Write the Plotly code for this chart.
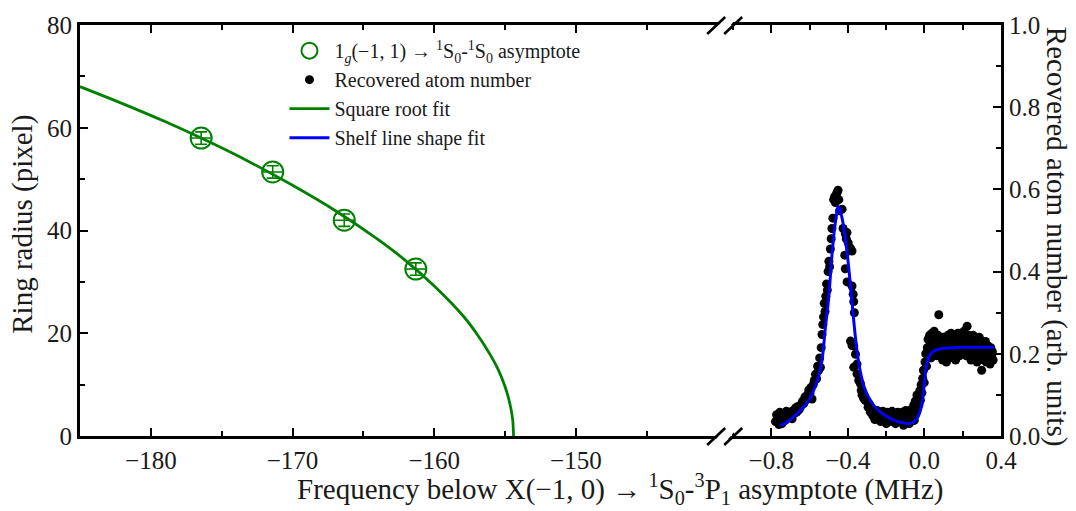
import plotly.graph_objects as go

# ---------------- data ----------------
# green ring radius data (left axis, MHz)
ring_freq = [-176.45, -171.4, -166.35, -161.3]
ring_radius = [58.0, 51.4, 42.0, 32.5]
ring_err_y = [1.2, 1.2, 1.2, 1.2]
ring_err_x = [0.7, 0.7, 0.7, 0.7]

# square root fit curve
fit_freq = [-185.0, -182.0, -179.0, -176.0, -173.0, -170.0, -167.0, -164.0, -162.0,
            -160.0, -158.0, -157.0, -156.0, -155.5, -155.0, -154.8, -154.6, -154.5,
            -154.45, -154.4]
fit_radius = [68.0, 64.7, 61.2, 57.4, 53.3, 48.8, 43.9, 38.3, 34.1,
              29.2, 23.5, 19.9, 15.6, 13.0, 9.6, 7.8, 5.5, 3.9, 2.8, 0.0]

# recovered atom number (right axis, MHz)
atom_freq = [
    -0.778, -0.772, -0.766, -0.760, -0.755, -0.749, -0.744, -0.738, -0.733, -0.727,
    -0.721, -0.715, -0.709, -0.703, -0.697, -0.691, -0.685, -0.679, -0.673, -0.667,
    -0.661, -0.655, -0.648, -0.642, -0.636, -0.630, -0.624, -0.618, -0.612, -0.604,
    -0.598, -0.592, -0.587, -0.581, -0.575, -0.569, -0.563, -0.558, -0.552, -0.547,
    -0.543, -0.539, -0.535, -0.531, -0.527, -0.523, -0.519, -0.515, -0.511, -0.507,
    -0.503, -0.499, -0.495, -0.491, -0.487, -0.483, -0.478, -0.474, -0.469, -0.465,
    -0.460, -0.456, -0.451, -0.447, -0.443, -0.430, -0.425, -0.413, -0.408, -0.416,
    -0.404, -0.398, -0.386, -0.378, -0.413, -0.404, -0.378, -0.372, -0.369, -0.366,
    -0.386, -0.378, -0.369, -0.360, -0.369, -0.352, -0.352, -0.343, -0.334, -0.330,
    -0.326, -0.318, -0.310, -0.300, -0.294, -0.288, -0.282, -0.276, -0.270, -0.265,
    -0.259, -0.253, -0.247, -0.241, -0.235, -0.229, -0.223, -0.217, -0.211, -0.205,
    -0.199, -0.193, -0.187, -0.181, -0.175, -0.169, -0.163, -0.157, -0.151, -0.145,
    -0.139, -0.133, -0.127, -0.121, -0.115, -0.109, -0.103, -0.097, -0.091, -0.085,
    -0.079, -0.073, -0.067, -0.061, -0.056, -0.053, -0.048, -0.043, -0.039, -0.034,
    -0.029, -0.024, -0.021, -0.017, -0.013, -0.009, -0.005, -0.001, 0.003, 0.007,
    0.011, 0.015, 0.019, 0.023, 0.027, 0.031, 0.035, 0.039, 0.043, 0.047,
    0.051, 0.055, 0.059, 0.063, 0.067, 0.071, 0.075, 0.079, 0.083, 0.087,
    0.091, 0.095, 0.099, 0.103, 0.107, 0.111, 0.115, 0.119, 0.123, 0.127,
    0.131, 0.135, 0.139, 0.143, 0.147, 0.151, 0.155, 0.159, 0.163, 0.167,
    0.171, 0.175, 0.179, 0.183, 0.187, 0.191, 0.195, 0.199, 0.203, 0.207,
    0.211, 0.215, 0.219, 0.223, 0.227, 0.231, 0.235, 0.239, 0.243, 0.247,
    0.251, 0.255, 0.259, 0.263, 0.267, 0.271, 0.275, 0.279, 0.283, 0.287,
    0.291, 0.295, 0.299, 0.303, 0.307, 0.311, 0.315, 0.319, 0.323, 0.327,
    0.331, 0.335, 0.339, 0.343, 0.347, 0.351, 0.355, 0.359]
atom_number = [
    0.035, 0.052, 0.040, 0.028, 0.058, 0.044, 0.030, 0.055, 0.047, 0.038,
    0.060, 0.050, 0.058, 0.045, 0.055, 0.042, 0.062, 0.055, 0.068, 0.058,
    0.072, 0.064, 0.070, 0.078, 0.085, 0.079, 0.095, 0.088, 0.100, 0.112,
    0.104, 0.118, 0.090, 0.125, 0.135, 0.150, 0.139, 0.170, 0.160, 0.190,
    0.167, 0.215, 0.247, 0.271, 0.290, 0.323, 0.303, 0.340, 0.370, 0.355,
    0.400, 0.425, 0.412, 0.455, 0.480, 0.505, 0.530, 0.575, 0.582, 0.568,
    0.588, 0.592, 0.598, 0.575, 0.548, 0.552, 0.505, 0.492, 0.480, 0.440,
    0.495, 0.470, 0.457, 0.450, 0.407, 0.375, 0.365, 0.345, 0.327, 0.300,
    0.231, 0.220, 0.219, 0.199, 0.167, 0.175, 0.151, 0.135, 0.127, 0.111,
    0.100, 0.092, 0.087, 0.085, 0.070, 0.078, 0.058, 0.066, 0.050, 0.060,
    0.040, 0.055, 0.062, 0.045, 0.058, 0.035, 0.052, 0.060, 0.042, 0.055,
    0.030, 0.058, 0.048, 0.055, 0.036, 0.060, 0.045, 0.055, 0.030, 0.050,
    0.058, 0.038, 0.052, 0.045, 0.058, 0.026, 0.048, 0.062, 0.040, 0.055,
    0.030, 0.045, 0.065, 0.050, 0.075, 0.038, 0.085, 0.060, 0.100, 0.090,
    0.075, 0.110, 0.087, 0.125, 0.105, 0.140, 0.160, 0.130, 0.180, 0.200,
    0.170, 0.215, 0.235, 0.205, 0.245, 0.228, 0.190, 0.250, 0.215, 0.235,
    0.255, 0.205, 0.240, 0.225, 0.195, 0.245, 0.295, 0.215, 0.238, 0.200,
    0.228, 0.185, 0.240, 0.215, 0.195, 0.235, 0.180, 0.210, 0.245, 0.200,
    0.225, 0.190, 0.250, 0.210, 0.235, 0.200, 0.245, 0.220, 0.185, 0.240,
    0.205, 0.250, 0.225, 0.195, 0.250, 0.215, 0.240, 0.200, 0.230, 0.255,
    0.215, 0.240, 0.195, 0.267, 0.225, 0.245, 0.205, 0.235, 0.185, 0.230,
    0.200, 0.245, 0.215, 0.190, 0.235, 0.205, 0.180, 0.225, 0.195, 0.240,
    0.210, 0.230, 0.160, 0.195, 0.225, 0.185, 0.210, 0.230, 0.180, 0.205,
    0.220, 0.190, 0.210, 0.175, 0.215, 0.195, 0.205, 0.185]

# shelf line shape fit
shelf_freq = [-0.753, -0.72, -0.675, -0.64, -0.604, -0.575, -0.552, -0.535, -0.518, -0.50,
              -0.483, -0.465, -0.4475, -0.43, -0.413, -0.40, -0.386, -0.373, -0.360, -0.347,
              -0.334, -0.315, -0.291, -0.26, -0.221, -0.18, -0.134, -0.10, -0.082, -0.06,
              -0.039, -0.025, -0.0125, -0.003, 0.005, 0.015, 0.031, 0.05, 0.075, 0.12,
              0.20, 0.30, 0.362]
shelf_number = [0.025, 0.033, 0.050, 0.066, 0.087, 0.115, 0.145, 0.183, 0.260, 0.335,
                0.439, 0.520, 0.558, 0.530, 0.480, 0.430, 0.365, 0.300, 0.239, 0.190,
                0.155, 0.120, 0.094, 0.072, 0.055, 0.043, 0.034, 0.031, 0.030, 0.033,
                0.042, 0.056, 0.079, 0.115, 0.151, 0.180, 0.199, 0.207, 0.211, 0.214,
                0.216, 0.216, 0.216]

# axis ticks
left_x_ticks = [-180, -170, -160, -150]
left_x_minor = [-175, -165, -155, -145]
right_x_ticks = [-0.8, -0.4, 0.0, 0.4]
right_x_labels = ["\u22120.8", "\u22120.4", "0.0", "0.4"]
right_x_minor = [-1.0, -0.6, -0.2, 0.2]
left_y_ticks = [0, 20, 40, 60, 80]
right_y_ticks = [0.0, 0.2, 0.4, 0.6, 0.8, 1.0]

# ---------------- style ----------------
GREEN = "#008000"
BLUE = "#0000ff"
FONT = "Liberation Serif"
TXT = "#1a1a1a"
W, H = 1076, 511
ML, MR, MT, MB = 80, 75, 20, 75
SPLIT = 0.7

fig = go.Figure()

fig.add_trace(go.Scatter(
    x=ring_freq, y=ring_radius, mode="markers", xaxis="x", yaxis="y",
    name="1<sub><i>g</i></sub>(\u22121, 1) \u2192 <sup>1</sup>S<sub>0</sub>-<sup>1</sup>S<sub>0</sub> asymptote",
    marker=dict(symbol="circle-open", size=21, color=GREEN, line=dict(width=2, color=GREEN)),
    error_y=dict(type="data", array=ring_err_y, color=GREEN, thickness=1.6, width=6),
    error_x=dict(type="data", array=ring_err_x, color=GREEN, thickness=1.6, width=0),
))
fig.add_trace(go.Scatter(
    x=atom_freq, y=atom_number, mode="markers", xaxis="x2", yaxis="y2",
    name="Recovered atom number",
    marker=dict(symbol="circle", size=9, color="black"),
))
fig.add_trace(go.Scatter(
    x=fit_freq, y=fit_radius, mode="lines", xaxis="x", yaxis="y",
    name="Square root fit", line=dict(color=GREEN, width=2.8, shape="spline"),
))
fig.add_trace(go.Scatter(
    x=shelf_freq, y=shelf_number, mode="lines", xaxis="x2", yaxis="y2",
    name="Shelf line shape fit", line=dict(color=BLUE, width=3, shape="spline"),
))

axis_common = dict(showline=True, linecolor="black", linewidth=2.8, ticks="inside",
                   ticklen=8, tickwidth=2, tickcolor="black", showgrid=False,
                   zeroline=False, tickfont=dict(family=FONT, size=25, color=TXT))

fig.update_layout(
    width=W, height=H, margin=dict(l=ML, r=MR, t=MT, b=MB),
    paper_bgcolor="white", plot_bgcolor="white",
    font=dict(family=FONT, color=TXT),
    xaxis=dict(domain=[0, SPLIT], range=[-185, -139.5], anchor="y",
               tickvals=left_x_ticks, mirror="allticks",
               minor=dict(tickvals=left_x_minor, ticks="inside", ticklen=5,
                          tickwidth=1.8, tickcolor="black", showgrid=False),
               **axis_common),
    xaxis2=dict(domain=[SPLIT, 1], range=[-1.043, 0.4], anchor="y2",
                tickvals=right_x_ticks, ticktext=right_x_labels, mirror="allticks",
                minor=dict(tickvals=right_x_minor, ticks="inside", ticklen=5,
                           tickwidth=1.8, tickcolor="black", showgrid=False),
                **axis_common),
    yaxis=dict(domain=[0, 1], range=[0, 80], anchor="x", side="left",
               tickvals=left_y_ticks,
               minor=dict(dtick=10, ticks="inside", ticklen=5, tickwidth=1.8,
                          tickcolor="black", showgrid=False),
               **axis_common),
    yaxis2=dict(domain=[0, 1], range=[0, 1.0], anchor="x2", side="right",
                tickvals=right_y_ticks, tickformat=".1f",
                minor=dict(dtick=0.1, ticks="inside", ticklen=5, tickwidth=1.8,
                           tickcolor="black", showgrid=False),
                **axis_common),
    legend=dict(x=0.222, y=0.985, xanchor="left", yanchor="top",
                bgcolor="rgba(0,0,0,0)", font=dict(family=FONT, size=20, color=TXT),
                tracegroupgap=0, itemwidth=40),
    showlegend=True,
)

# axis titles as annotations
fig.add_annotation(
    text="Ring radius (pixel)",
    xref="paper", yref="paper", x=-0.0625, y=0.515, xanchor="center", yanchor="middle",
    textangle=-90, showarrow=False, font=dict(family=FONT, size=29, color=TXT))
fig.add_annotation(
    text="Frequency below X(\u22121, 0) \u2192 <sup>1</sup>S<sub>0</sub>-<sup>3</sup>P<sub>1</sub> asymptote (MHz)",
    xref="paper", yref="paper", x=0.5874, y=-0.13, xanchor="center", yanchor="middle",
    showarrow=False, font=dict(family=FONT, size=29, color=TXT))
fig.add_annotation(
    text="Recovered atom number (arb. units)",
    xref="paper", yref="paper", x=1.061, y=1.0, xanchor="center", yanchor="top",
    textangle=90, showarrow=False, font=dict(family=FONT, size=29, color=TXT))

# axis break marks (pixel offsets around the split point)
for yb in (0, 1):
    fig.add_shape(type="line", xref="paper", yref="paper", xsizemode="pixel", ysizemode="pixel",
                  xanchor=SPLIT, yanchor=yb, x0=-7, x1=7, y0=-8, y1=8,
                  line=dict(color="white", width=9), layer="above")
    for dx in (-8.5, 8.5):
        fig.add_shape(type="line", xref="paper", yref="paper", xsizemode="pixel",
                      ysizemode="pixel", xanchor=SPLIT, yanchor=yb,
                      x0=dx - 9, x1=dx + 9, y0=-9, y1=8,
                      line=dict(color="black", width=2.6), layer="above")

fig.write_html("out.html")
